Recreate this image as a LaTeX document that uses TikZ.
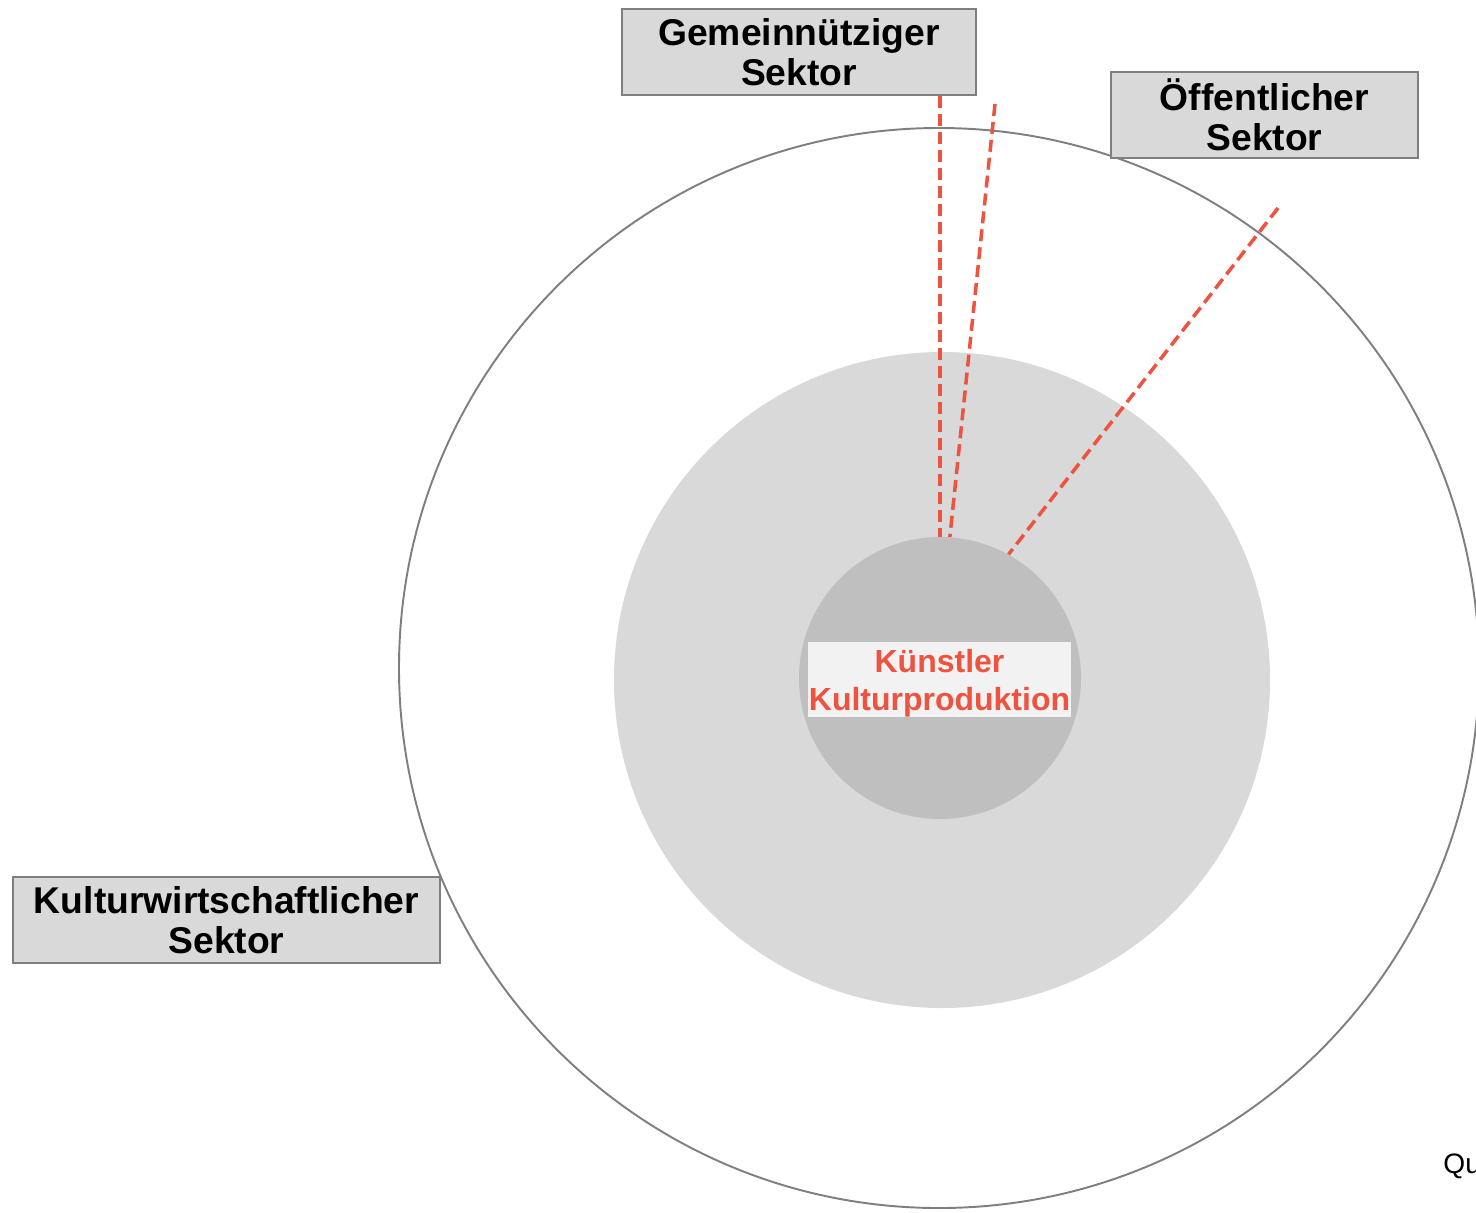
\documentclass[tikz,border=0pt]{standalone}
\usepackage{fontspec}
\setmainfont{Liberation Sans}
\usetikzlibrary{positioning}
\definecolor{ringgray}{HTML}{D9D9D9}
\definecolor{coregray}{HTML}{BFBFBF}
\definecolor{labelgray}{HTML}{F2F2F2}
\definecolor{framegray}{HTML}{7F7F7F}
\definecolor{labelred}{HTML}{EE5340}
\tikzset{
  sektor/.style={draw=framegray, line width=1.1pt, fill=ringgray, align=center,
    inner sep=0pt, minimum height=17.2mm,
    font=\fontsize{21.2}{22.8}\selectfont\bfseries},
  grenze/.style={draw=labelred, line width=2pt, dash pattern=on 2.4mm off 1.2mm},
}
\begin{document}
\begin{tikzpicture}[x=0.2mm,y=-0.2mm]
  \useasboundingbox (0,0) rectangle (1476,1212);

  % the circles
  \node[circle, draw=framegray, line width=1.1pt, minimum size=216mm] (aussen) at (939,668) {};
  \node[circle, fill=ringgray, minimum size=131.2mm] (ring) at (942,680) {};
  \node[circle, fill=coregray, minimum size=56.4mm] (kern) at (940,678) {};

  % centre label
  \node[fill=labelgray, text=labelred, align=center, inner sep=0pt,
        minimum width=52.6mm, minimum height=15mm,
        font=\fontsize{18.2}{21.6}\selectfont\bfseries] (kunst) at (939.5,679.5)
        {\rule{0pt}{6mm}Künstler\\Kulturproduktion};

  % sector boxes
  \node[sektor, minimum width=70.8mm] (gemein) at (799,52) {Gemeinnütziger\\Sektor};
  \node[sektor, minimum width=61.4mm] (oeff) at (1264.5,115) {Öffentlicher\\Sektor};
  \node[sektor, minimum width=85.4mm] (kultur) at (226.5,920) {Kulturwirtschaftlicher\\Sektor};

  % sector borders
  \coordinate (gemeinEnde) at (995,104);
  \coordinate (oeffEnde) at (1278,208);
  \draw[grenze] (gemein.south -| kern.north) -- (kern.north);
  \draw[grenze] (gemeinEnde) -- (kern.86);
  \draw[grenze] (oeffEnde) -- (kern.61);

  \node[anchor=base west, inner sep=0pt, font=\fontsize{16}{18}\selectfont] (quelle) at (1443,1173) {Qu};
\end{tikzpicture}
\end{document}
